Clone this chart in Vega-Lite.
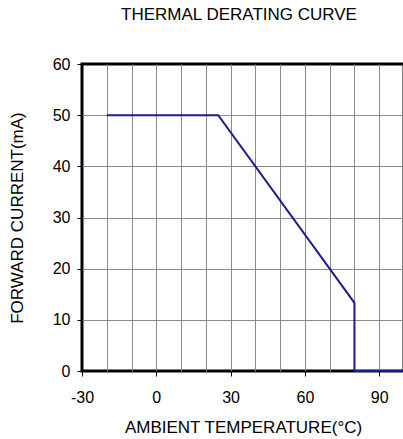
{
  "$schema": "https://vega.github.io/schema/vega-lite/v6.json",
  "autosize": "none",
  "width": 322,
  "height": 307,
  "padding": {"left": 82, "top": 64, "right": 0, "bottom": 68},
  "background": "white",
  "config": {
    "font": "Liberation Sans",
    "view": {"stroke": "black", "strokeWidth": 3},
    "axis": {"labelFont": "Liberation Sans", "titleFont": "Liberation Sans", "labelColor": "black", "titleColor": "black", "titleFontWeight": "normal", "labelFontSize": 16, "titleFontSize": 17}
  },
  "title": {"text": "THERMAL DERATING CURVE", "fontSize": 17, "fontWeight": "normal", "color": "black", "font": "Liberation Sans", "anchor": "middle", "dx": -4, "offset": 32},
  "data": {"values": [
    {"temp": -20, "current": 50},
    {"temp": 25, "current": 50},
    {"temp": 80, "current": 13.33},
    {"temp": 80, "current": 0},
    {"temp": 100, "current": 0}
  ]},
  "mark": {"type": "line", "color": "#1c1c8e", "strokeWidth": 2},
  "encoding": {
    "x": {"field": "temp", "type": "quantitative", "sort": null,
      "scale": {"domain": [-30, 100], "nice": false, "zero": false},
      "axis": {"title": "AMBIENT TEMPERATURE(°C)", "values": [-30, -20, -10, 0, 10, 20, 30, 40, 50, 60, 70, 80, 90, 100],
        "labelExpr": "datum.value % 30 === 0 && datum.value < 100 ? toString(datum.value) : ''",
        "domain": false, "grid": true, "gridColor": "#8a8a8a", "gridWidth": 1,
        "gridOpacity": {"condition": {"test": "datum.value === -30", "value": 0}, "value": 1},
        "tickColor": "black", "tickSize": 5,
        "tickOpacity": {"condition": {"test": "datum.value % 30 === 0", "value": 1}, "value": 0},
        "labelPadding": 13, "titlePadding": 14, "labelFlush": false}
    },
    "y": {"field": "current", "type": "quantitative",
      "scale": {"domain": [0, 60], "nice": false},
      "axis": {"title": "FORWARD CURRENT(mA)", "values": [0, 10, 20, 30, 40, 50, 60],
        "domain": false, "grid": true, "gridColor": "#8a8a8a", "gridWidth": 1,
        "gridOpacity": {"condition": {"test": "datum.value === 0 || datum.value === 60", "value": 0}, "value": 1},
        "tickColor": "black", "tickSize": 5, "labelPadding": 7, "titlePadding": 26, "labelFlush": false}
    }
  }
}
